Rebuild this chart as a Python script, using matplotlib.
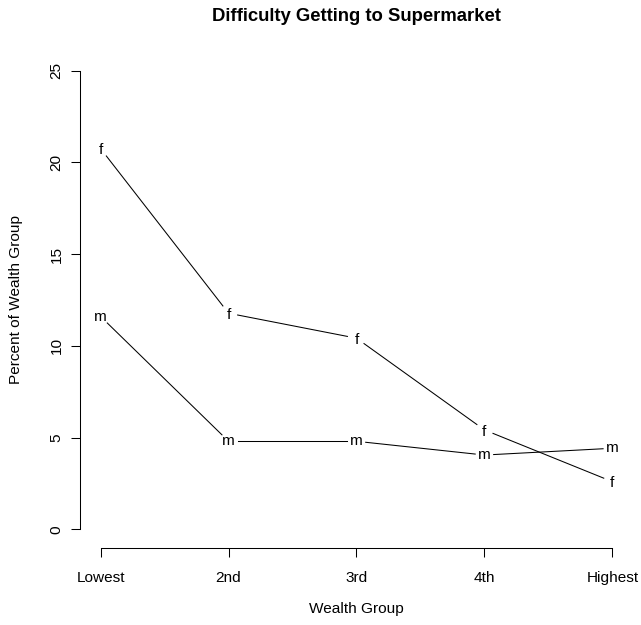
import matplotlib
matplotlib.use("Agg")
import matplotlib.pyplot as plt
import numpy as np
from matplotlib.transforms import offset_copy

plt.rcParams["font.family"] = ["Liberation Sans", "DejaVu Sans"]

groups = ["Lowest", "2nd", "3rd", "4th", "Highest"]
female = [20.75, 11.78, 10.42, 5.42, 2.60]
male = [11.60, 4.80, 4.80, 4.05, 4.42]
yticks = [0, 5, 10, 15, 20, 25]

FS = 11.1      # pt, ~15.4 px at 100 dpi
GAP = 9.25     # px, gap left around each point letter (R type="b")

fig = plt.figure(figsize=(6.41, 6.25), dpi=100)
ax = fig.add_axes([0.1251, 0.1237, 0.8621, 0.7925])
x = np.arange(1, len(groups) + 1)
ax.set_xlim(0.84, 5.16)
ax.set_ylim(-1, 26)


def gapped_line(xs, ys):
    pts = ax.transData.transform(np.column_stack([xs, ys]))
    inv = ax.transData.inverted()
    for p0, p1 in zip(pts[:-1], pts[1:]):
        d = p1 - p0
        dist = np.hypot(*d)
        if dist <= 2 * GAP:
            continue
        u = d / dist
        a, b = inv.transform([p0 + GAP * u, p1 - GAP * u])
        ax.plot([a[0], b[0]], [a[1], b[1]], color="black", lw=0.75)


def letters(xs, ys, ch, ink_mid):
    # centre the glyph ink on the point, like R pch characters
    tr = offset_copy(ax.transData, fig=fig, y=-ink_mid * FS, units="points")
    for xi, yi in zip(xs, ys):
        ax.text(xi, yi, ch, transform=tr, ha="center", va="baseline",
                fontsize=FS, color="black")


gapped_line(x, female)
gapped_line(x, male)
letters(x, female, "f", 0.3645)
letters(x, male, "m", 0.26)

for s in ["top", "right"]:
    ax.spines[s].set_visible(False)
ax.spines["left"].set_bounds(0, 25)
ax.spines["bottom"].set_bounds(1, 5)
for s in ["left", "bottom"]:
    ax.spines[s].set_linewidth(0.75)

ax.set_xticks(x)
ax.set_xticklabels(groups, fontsize=FS)
ax.set_yticks(yticks)
ax.set_yticklabels([str(v) for v in yticks], fontsize=FS, rotation=90, va="center")
ax.tick_params(axis="x", length=6.7, width=0.75, pad=10.4)
ax.tick_params(axis="y", length=6.7, width=0.75, pad=5.4)

fig.text(356.5 / 641, 1 - 20.7 / 625, "Difficulty Getting to Supermarket",
         ha="center", va="baseline", fontsize=13.3, fontweight="bold")
fig.text(356.5 / 641, 1 - 613.3 / 625, "Wealth Group",
         ha="center", va="baseline", fontsize=FS)
fig.text(19.8 / 641, 1 - 300 / 625, "Percent of Wealth Group", rotation=90,
         rotation_mode="anchor", ha="center", va="baseline", fontsize=FS)

fig.savefig("out.png", dpi=100, facecolor="white")
